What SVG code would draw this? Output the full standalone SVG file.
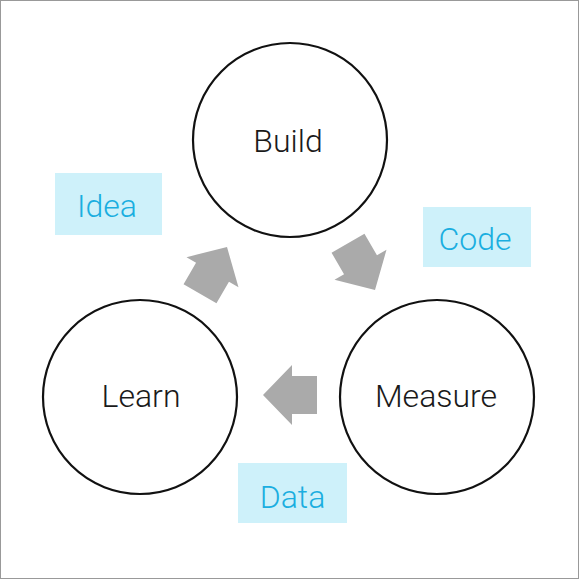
<svg xmlns="http://www.w3.org/2000/svg" width="580" height="580" viewBox="0 0 580 580">
  <defs>
    <style>
      .node { fill: #ffffff; stroke: #111111; stroke-width: 2.2; }
      .ntext { font-family: Roboto, "Liberation Sans", sans-serif; font-weight: 300; font-size: 32px; fill: #1a1a1a; text-anchor: middle; }
      .lbox { fill: #cef1fa; }
      .ltext { font-family: Roboto, "Liberation Sans", sans-serif; font-weight: 300; font-size: 32px; fill: #1aaee0; text-anchor: middle; }
      .arrow { fill: #aaaaaa; }
    </style>
    <polygon id="arr" points="-27,-19 -2,-19 -2,-30 27,0 -2,30 -2,19 -27,19"/>
  </defs>
  <rect x="0.5" y="0.5" width="578" height="578" fill="#ffffff" stroke="#999999" stroke-width="1"/>
  <g id="connectors">
    <use href="#arr" class="arrow" transform="translate(361.5,266.6) rotate(60)"/>
    <use href="#arr" class="arrow" transform="translate(290,395) rotate(180)"/>
    <use href="#arr" class="arrow" transform="translate(213.5,270.4) rotate(-60)"/>
  </g>
  <g id="build">
    <circle class="node" cx="290" cy="140" r="97"/>
    <text class="ntext" x="288" y="152">Build</text>
  </g>
  <g id="measure">
    <circle class="node" cx="437" cy="397" r="97"/>
    <text class="ntext" x="436" y="407">Measure</text>
  </g>
  <g id="learn">
    <circle class="node" cx="140" cy="397" r="97"/>
    <text class="ntext" x="141" y="407">Learn</text>
  </g>
  <g id="label-idea">
    <rect class="lbox" x="55" y="173" width="107" height="62"/>
    <text class="ltext" x="107" y="217">Idea</text>
  </g>
  <g id="label-code">
    <rect class="lbox" x="423" y="207" width="108" height="60"/>
    <text class="ltext" x="475" y="250">Code</text>
  </g>
  <g id="label-data">
    <rect class="lbox" x="238" y="463" width="109" height="60"/>
    <text class="ltext" x="292.5" y="508">Data</text>
  </g>
</svg>
